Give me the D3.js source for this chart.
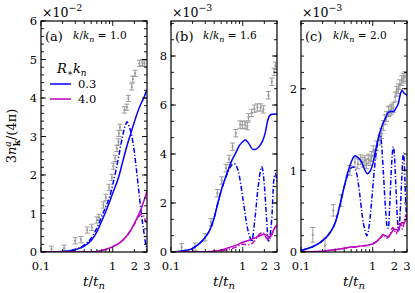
<!DOCTYPE html>
<html><head><meta charset="utf-8">
<script src="https://cdn.jsdelivr.net/npm/d3@7"></script>
<style>body{margin:0;background:#fff}svg{display:block}text{font-family:"DejaVu Serif",serif}</style>
</head><body>
<script>
// ---------------- DATA ----------------
const panelLabels = ["(a)", "(b)", "(c)"];
const kRatios = ["1.0", "1.6", "2.0"];
const yExponents = ["−2", "−3", "−3"];
const yMax = [6, 9.43, 2.83];
const yMajorTicks = [[0,1,2,3,4,5,6], [0,2,4,6,8], [0,1,2]];
const yMinorStep = [0.2, 2/3, 0.2];
const xMajorTicks = [0.1, 1];
const xMinorTicks = [0.2,0.3,0.4,0.5,0.6,0.7,0.8,0.9,2,3];
const xTickLabels = [0.1, 1, 2, 3];
const legendValues = ["0.3", "4.0"];
const seriesColors = ["#0000ff", "#c000c0"];
const expColor = "#9a9a9a";

// panel (a), units 1e-2
const expA_t = [0.14,0.21,0.30,0.36,0.44,0.51,0.60,0.64,0.74,0.80,0.89,0.97,1.02,1.08,1.14,1.20,1.22,1.26,1.45,1.57,1.65,1.84,1.90,2.05,2.35,2.59,2.76];
const expA_v = [0.07,0.10,0.29,0.32,0.57,0.64,0.83,0.90,1.22,1.42,1.68,1.94,2.23,2.43,2.69,2.86,3.08,3.24,3.69,3.76,3.99,4.29,4.49,4.64,4.90,4.92,4.90];
const expA_e = 0.08;
const blueSolidA_t = [0.1,0.2,0.3,0.4,0.5,0.6,0.7,0.8,0.9,1.0,1.2,1.4,1.6,1.8,2.0,2.4,2.7,3.0];
const blueSolidA_v = [0.0,0.01,0.06,0.15,0.3,0.52,0.8,1.05,1.3,1.53,1.93,2.4,2.8,3.1,3.38,3.8,4.0,4.22];
const blueDashA_t = [0.1,0.2,0.3,0.4,0.5,0.6,0.7,0.8,0.9,1.0,1.1,1.2,1.35,1.5,1.58,1.7,1.85,2.0,2.15,2.3,2.5,2.7,2.85,3.0];
const blueDashA_v = [0.0,0.01,0.07,0.18,0.36,0.62,0.92,1.18,1.42,1.75,2.1,2.45,2.95,3.3,3.38,3.25,3.0,2.6,2.1,1.6,1.0,0.55,0.25,0.05];
const magSolidA_t = [0.1,0.5,0.7,0.9,1.0,1.2,1.4,1.6,1.8,2.0,2.2,2.4,2.6,2.8,3.0];
const magSolidA_v = [0.0,0.0,0.04,0.1,0.14,0.22,0.32,0.44,0.58,0.74,0.9,1.05,1.22,1.4,1.58];
const magDashA_t = [0.1,0.5,0.7,0.9,1.0,1.2,1.4,1.6,1.8,2.0,2.2,2.4,2.6,2.8,3.0];
const magDashA_v = [0.0,0.0,0.04,0.1,0.14,0.22,0.32,0.44,0.58,0.72,0.86,0.96,0.98,0.85,0.7];

// panel (b), units 1e-3
const expB_t = [0.141,0.216,0.298,0.361,0.442,0.509,0.585,0.645,0.72,0.80,0.92,0.99,1.08,1.16,1.20,1.33,1.45,1.60,1.78,1.94,2.28,2.54,2.74,2.85];
const expB_v = [0.19,0.22,0.60,1.22,2.40,2.92,3.42,3.80,4.30,4.85,5.20,5.18,5.20,5.14,5.50,5.68,5.85,5.90,5.90,5.82,6.40,6.95,7.35,7.60];
const expB_e = 0.15;
const blueSolidB_t = [0.1,0.15,0.2,0.25,0.3,0.35,0.4,0.45,0.5,0.6,0.7,0.8,0.9,1.0,1.08,1.2,1.4,1.55,1.74,1.9,2.05,2.2,2.35,2.55,3.0];
const blueSolidB_v = [0.0,0.05,0.15,0.35,0.6,0.92,1.4,2.0,2.5,3.2,3.72,4.05,4.35,4.5,4.57,4.45,4.18,4.2,4.35,4.55,4.85,5.3,5.55,5.62,5.63];
const blueDashB_t = [0.1,0.15,0.2,0.25,0.3,0.35,0.4,0.45,0.5,0.6,0.68,0.76,0.87,1.02,1.14,1.26,1.33,1.48,1.65,1.84,2.0,2.16,2.27,2.54,2.7,2.85,3.0];
const blueDashB_v = [0.0,0.05,0.15,0.35,0.6,0.92,1.4,2.0,2.5,3.15,3.5,3.6,3.28,2.05,1.1,0.6,0.42,1.38,2.73,3.48,2.73,1.24,0.45,1.38,2.9,3.2,2.8];
const magSolidB_t = [0.1,0.3,0.45,0.6,0.7,0.85,1.0,1.2,1.4,1.6,1.8,1.95,2.1,2.3,2.45,2.6,2.8,3.0];
const magSolidB_v = [0.0,0.01,0.05,0.15,0.22,0.3,0.4,0.47,0.55,0.62,0.68,0.72,0.7,0.62,0.65,0.8,1.0,1.1];
const magDashB_t = [0.1,0.3,0.5,0.8,1.0,1.2,1.35,1.5,1.7,1.9,2.1,2.3,2.5,2.7,3.0];
const magDashB_v = [0.0,0.01,0.05,0.2,0.32,0.3,0.35,0.5,0.72,0.8,0.6,0.5,0.65,0.9,1.0];

// panel (c), units 1e-3
const expC_t = [0.146,0.216,0.282,0.361,0.48,0.565,0.62,0.678,0.73,0.778,0.82,0.866,0.92,0.966,1.016,1.08,1.133,1.26,1.33,1.40,1.48,1.56,1.65,1.74,1.83,1.93,2.05,2.15,2.27,2.39,2.53,2.66,2.81];
const expC_v = [0.21,0.08,0.51,0.63,1.0,1.1,1.08,1.13,1.1,1.12,1.08,1.14,1.12,1.17,1.24,1.2,1.3,1.37,1.45,1.55,1.62,1.66,1.72,1.73,1.75,1.77,1.9,1.97,2.0,2.05,2.1,2.13,2.15];
const expC_e = [0.09,0.09,0.07,0.07,0.06,0.06,0.06,0.06,0.06,0.06,0.06,0.06,0.06,0.06,0.06,0.06,0.06,0.06,0.06,0.06,0.06,0.06,0.06,0.06,0.06,0.06,0.06,0.06,0.06,0.06,0.06,0.06,0.06];
const blueSolidC_t = [0.1,0.15,0.2,0.25,0.3,0.35,0.4,0.45,0.5,0.565,0.62,0.7,0.78,0.84,0.92,1.0,1.1,1.2,1.35,1.5,1.65,1.8,1.95,2.1,2.27,2.45,2.55,2.7,3.0];
const blueSolidC_v = [0.02,0.07,0.14,0.23,0.36,0.58,0.8,0.98,1.1,1.18,1.16,1.1,1.0,0.96,0.99,1.08,1.25,1.4,1.55,1.64,1.71,1.72,1.72,1.76,1.82,1.95,1.98,1.95,1.92];
const blueDashC_t = [0.1,0.15,0.2,0.25,0.3,0.35,0.4,0.45,0.5,0.54,0.6,0.66,0.72,0.78,0.83,0.9,0.97,1.05,1.15,1.25,1.32,1.4,1.5,1.58,1.65,1.72,1.8,1.88,1.93,2.0,2.1,2.2,2.3,2.4,2.52,2.62,2.7,2.8,2.9,3.0];
const blueDashC_v = [0.02,0.07,0.14,0.23,0.36,0.58,0.8,0.95,1.03,1.04,0.95,0.7,0.42,0.26,0.2,0.35,0.65,1.0,1.3,1.45,1.35,1.0,0.55,0.32,0.29,0.55,0.95,1.22,1.29,1.2,0.8,0.42,0.26,0.45,0.85,1.15,1.21,0.9,0.55,0.4];
const magSolidC_t = [0.1,0.2,0.3,0.4,0.5,0.6,0.7,0.8,0.9,1.0,1.1,1.2,1.3,1.4,1.5,1.65,1.8,1.95,2.1,2.25,2.4,2.55,2.7,2.85,3.0];
const magSolidC_v = [0.0,0.01,0.03,0.045,0.06,0.065,0.075,0.08,0.09,0.1,0.12,0.15,0.18,0.21,0.2,0.19,0.23,0.27,0.28,0.27,0.32,0.36,0.35,0.38,0.42];
const magDashC_t = [0.1,0.2,0.3,0.4,0.5,0.6,0.7,0.8,0.9,1.0,1.1,1.2,1.3,1.4,1.5,1.6,1.75,1.9,2.0,2.1,2.2,2.35,2.5,2.6,2.75,2.9,3.0];
const magDashC_v = [0.0,0.01,0.03,0.045,0.06,0.065,0.075,0.08,0.09,0.1,0.12,0.15,0.18,0.22,0.19,0.17,0.22,0.3,0.27,0.22,0.25,0.35,0.33,0.28,0.38,0.45,0.4];

const panels = [
  {exp:[expA_t,expA_v,expA_e], lines:[[blueSolidA_t,blueSolidA_v,0,false],[blueDashA_t,blueDashA_v,0,true],[magSolidA_t,magSolidA_v,1,false],[magDashA_t,magDashA_v,1,true]]},
  {exp:[expB_t,expB_v,expB_e], lines:[[blueSolidB_t,blueSolidB_v,0,false],[blueDashB_t,blueDashB_v,0,true],[magSolidB_t,magSolidB_v,1,false],[magDashB_t,magDashB_v,1,true]]},
  {exp:[expC_t,expC_v,expC_e], lines:[[blueSolidC_t,blueSolidC_v,0,false],[blueDashC_t,blueDashC_v,0,true],[magSolidC_t,magSolidC_v,1,false],[magDashC_t,magDashC_v,1,true]]}
];

// ---------------- LAYOUT ----------------
const W = 415, H = 293;
const lefts = [41, 171, 301];
const pw = 106, plotTop = 21, plotBottom = 252;

const svg = d3.select("body").append("svg").attr("width", W).attr("height", H);

panels.forEach((p, i) => {
  const L = lefts[i];
  const x = d3.scaleLog().domain([0.1, 3.0]).range([L, L + pw]);
  const y = d3.scaleLinear().domain([0, yMax[i]]).range([plotBottom, plotTop]);
  const g = svg.append("g");
  const clipId = "clip" + i;
  svg.append("clipPath").attr("id", clipId).append("rect")
    .attr("x", L).attr("y", plotTop).attr("width", pw).attr("height", plotBottom - plotTop);

  // experimental points with error bars
  const [et, ev, ee] = p.exp;
  const eg = g.append("g").attr("clip-path", `url(#${clipId})`)
    .attr("stroke", expColor).attr("stroke-width", 1).attr("fill", "none");
  et.forEach((t, j) => {
    const e = Array.isArray(ee) ? ee[j] : ee;
    const cx = x(t), y0 = y(ev[j] - e), y1 = y(ev[j] + e);
    eg.append("line").attr("x1", cx).attr("x2", cx).attr("y1", y0).attr("y2", y1);
    eg.append("line").attr("x1", cx - 2.5).attr("x2", cx + 2.5).attr("y1", y0).attr("y2", y0);
    eg.append("line").attr("x1", cx - 2.5).attr("x2", cx + 2.5).attr("y1", y1).attr("y2", y1);
    eg.append("rect").attr("x", cx - 1).attr("y", y(ev[j]) - 1).attr("width", 2).attr("height", 2)
      .attr("fill", expColor).attr("stroke", "none");
  });

  // lines
  const lg = g.append("g").attr("clip-path", `url(#${clipId})`);
  const line = d3.line().x(d => x(d[0])).y(d => y(d[1])).curve(d3.curveMonotoneX);
  p.lines.forEach(([ts, vs, c, dashed]) => {
    lg.append("path").datum(ts.map((t, k) => [t, vs[k]]))
      .attr("d", line).attr("fill", "none").attr("stroke", seriesColors[c])
      .attr("stroke-width", 1.5)
      .attr("stroke-dasharray", dashed ? "5,2,1.2,2" : null);
  });

  // frame
  g.append("rect").attr("x", L).attr("y", plotTop).attr("width", pw).attr("height", plotBottom - plotTop)
    .attr("fill", "none").attr("stroke", "#000").attr("stroke-width", 1.2);

  // x ticks (inside, bottom and top)
  const tk = g.append("g").attr("stroke", "#000").attr("stroke-width", 0.9);
  xMajorTicks.forEach(t => {
    tk.append("line").attr("x1", x(t)).attr("x2", x(t)).attr("y1", plotBottom).attr("y2", plotBottom - 5);
    tk.append("line").attr("x1", x(t)).attr("x2", x(t)).attr("y1", plotTop).attr("y2", plotTop + 5);
  });
  xMinorTicks.forEach(t => {
    tk.append("line").attr("x1", x(t)).attr("x2", x(t)).attr("y1", plotBottom).attr("y2", plotBottom - 3);
    tk.append("line").attr("x1", x(t)).attr("x2", x(t)).attr("y1", plotTop).attr("y2", plotTop + 3);
  });
  // y ticks
  yMajorTicks[i].forEach(v => {
    tk.append("line").attr("x1", L).attr("x2", L + 5).attr("y1", y(v)).attr("y2", y(v));
    tk.append("line").attr("x1", L + pw).attr("x2", L + pw - 5).attr("y1", y(v)).attr("y2", y(v));
  });
  d3.range(0, yMax[i] + 1e-9, yMinorStep[i]).forEach(v => {
    tk.append("line").attr("x1", L).attr("x2", L + 3).attr("y1", y(v)).attr("y2", y(v));
    tk.append("line").attr("x1", L + pw).attr("x2", L + pw - 3).attr("y1", y(v)).attr("y2", y(v));
  });

  // tick labels
  xTickLabels.forEach(t => {
    g.append("text").attr("x", x(t)).attr("y", plotBottom + 18).attr("text-anchor", "middle")
      .attr("font-size", 11.5).text(t);
  });
  yMajorTicks[i].forEach(v => {
    g.append("text").attr("x", L - 4).attr("y", y(v) + 4.2).attr("text-anchor", "end")
      .attr("font-size", 11.5).text(v);
  });

  // multiplier
  const m = g.append("text").attr("x", L + 1).attr("y", 17).attr("font-size", 12.5);
  m.append("tspan").text("×10");
  m.append("tspan").attr("dy", -6).attr("font-size", 9.5).text(yExponents[i]);

  // panel label
  g.append("text").attr("x", L + 4).attr("y", plotTop + 20).attr("font-size", 13).text(panelLabels[i]);
  const kt = g.append("text").attr("x", L + 32).attr("y", plotTop + 18).attr("font-size", 10.5);
  kt.append("tspan").attr("font-style", "italic").text("k");
  kt.append("tspan").text("/");
  kt.append("tspan").attr("font-style", "italic").text("k");
  kt.append("tspan").attr("font-style", "italic").attr("font-size", 8).attr("dy", 2.5).text("n");
  kt.append("tspan").attr("dy", -2.5).text(" = " + kRatios[i]);

  // x label
  const xl = g.append("text").attr("x", L + pw / 2).attr("y", plotBottom + 34).attr("text-anchor", "middle")
    .attr("font-size", 13.5);
  xl.append("tspan").attr("font-style", "italic").text("t");
  xl.append("tspan").text("/");
  xl.append("tspan").attr("font-style", "italic").text("t");
  xl.append("tspan").attr("font-style", "italic").attr("font-size", 10).attr("dy", 3).text("n");
});

// legend in panel (a)
const lgd = svg.append("g");
const lt = lgd.append("text").attr("x", 57).attr("y", 73).attr("font-size", 13);
lt.append("tspan").attr("font-style", "italic").text("R");
lt.append("tspan").attr("font-size", 9).attr("dy", 2.5).text("∗");
lt.append("tspan").attr("dy", -2.5).attr("font-style", "italic").text("k");
lt.append("tspan").attr("font-style", "italic").attr("font-size", 9).attr("dy", 2.5).text("n");
legendValues.forEach((v, j) => {
  const yy = 84 + j * 15;
  lgd.append("line").attr("x1", 50).attr("x2", 71).attr("y1", yy).attr("y2", yy)
    .attr("stroke", seriesColors[j]).attr("stroke-width", 1.5);
  lgd.append("text").attr("x", 78).attr("y", yy + 4.2).attr("font-size", 11.5).text(v);
});

// y label
const yl = svg.append("text").attr("transform", "translate(16,136) rotate(-90)")
  .attr("text-anchor", "middle").attr("font-size", 13);
yl.append("tspan").text("3");
yl.append("tspan").attr("font-style", "italic").text("n");
yl.append("tspan").attr("font-style", "italic").attr("font-size", 9).attr("dy", -5).text("a");
yl.append("tspan").attr("font-weight", "bold").attr("font-size", 9).attr("dx", -5).attr("dy", 9).text("k");
yl.append("tspan").attr("dy", -4).text("/(4π)");
</script>
</body></html>
